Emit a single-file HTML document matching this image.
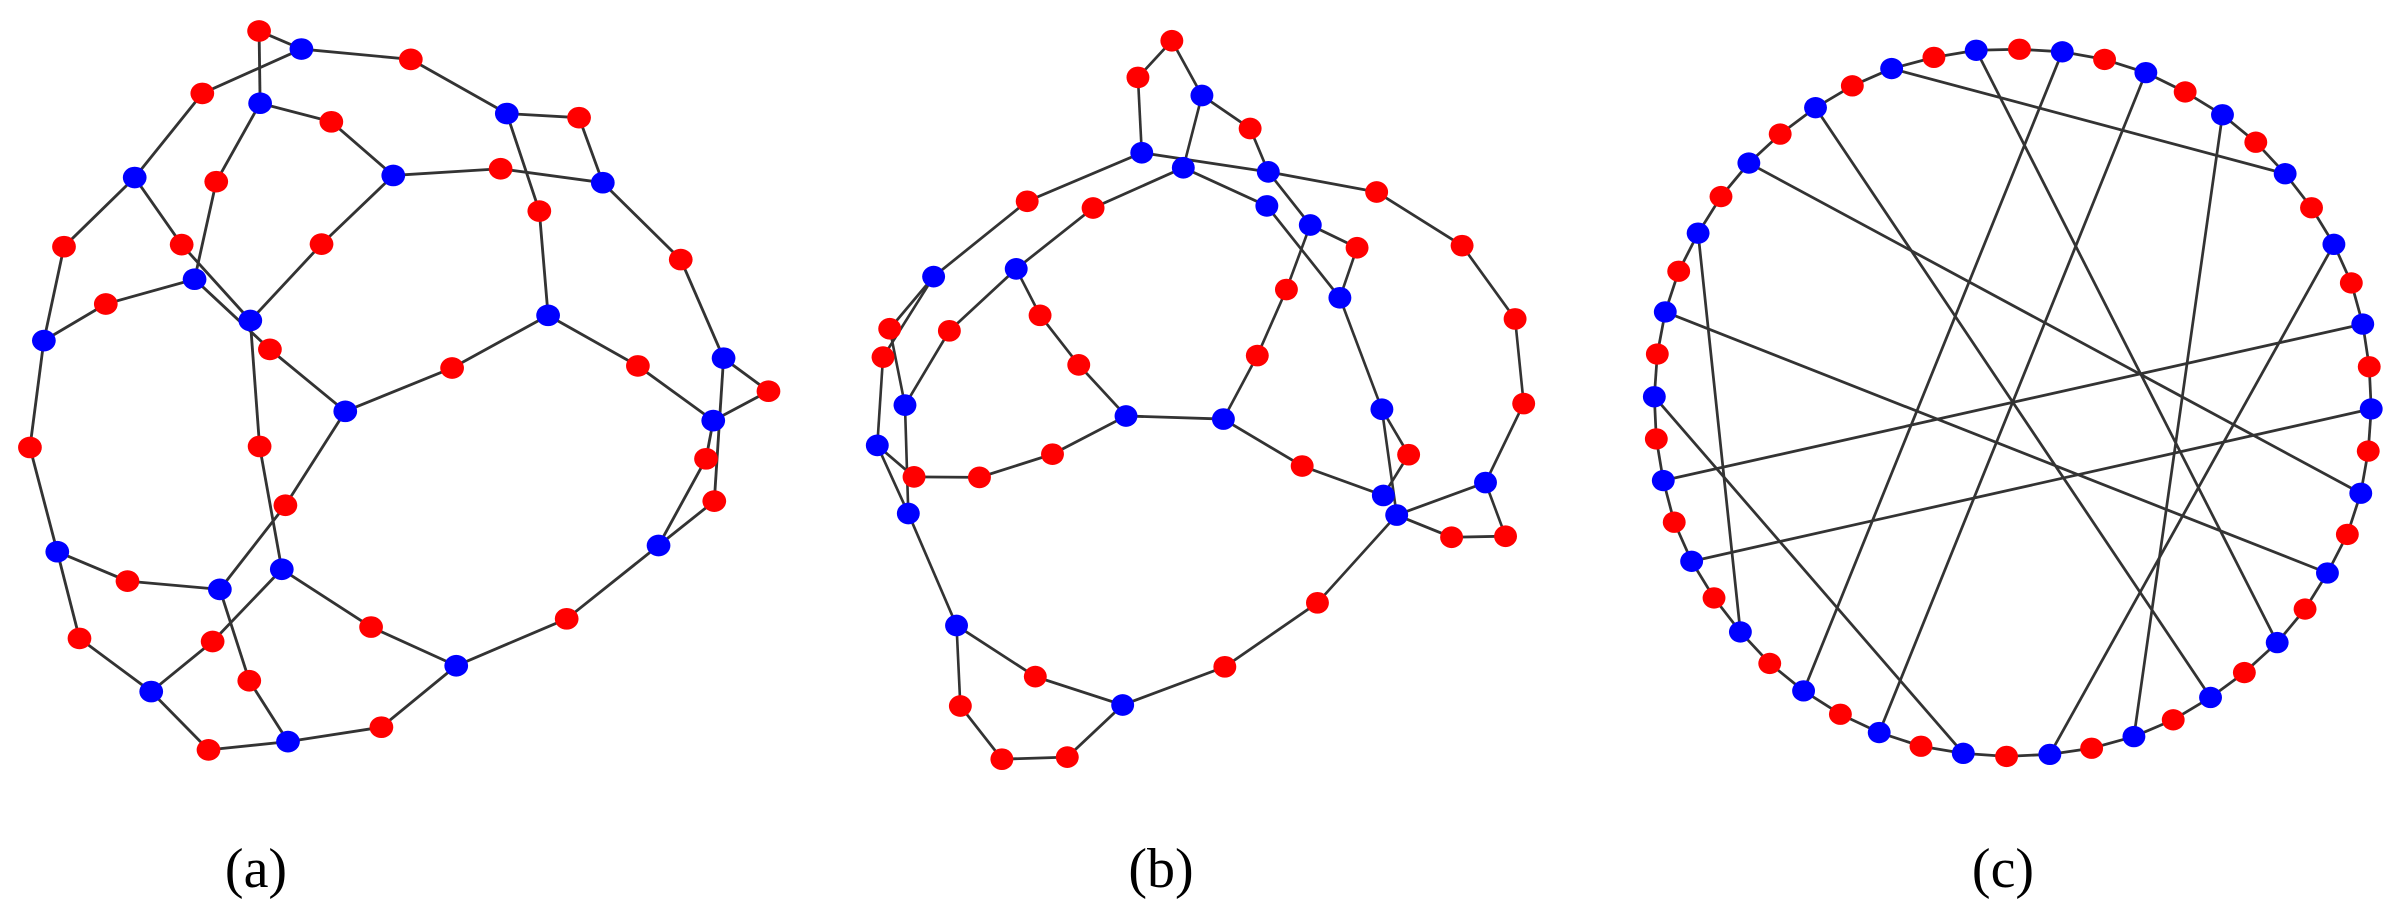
<!DOCTYPE html>
<html><head><meta charset="utf-8"><style>
html,body{margin:0;padding:0;background:#fff;}
svg{display:block;}
.e line{stroke:#333;stroke-width:5.5;}
text{font-family:"Liberation Serif",serif;font-size:56px;fill:#000;}
</style></head><body>
<svg width="2393" height="911" viewBox="0 0 2393 911" xmlns="http://www.w3.org/2000/svg">
<g id="A" transform="translate(0,0) scale(0.5161)"></g>
<g id="B" transform="translate(820,0) scale(0.4774,0.5161)"></g>
<g id="C" transform="translate(1620,1) scale(0.4975,0.508)"></g>
<text x="256" y="887" text-anchor="middle">(a)</text>
<text x="1161" y="887" text-anchor="middle">(b)</text>
<text x="2003" y="887" text-anchor="middle">(c)</text>
</svg>
<script>
const NS="http://www.w3.org/2000/svg";
function draw(id,nodes,edges,rx,ry){
 const g=document.getElementById(id);
 const eg=document.createElementNS(NS,"g");eg.setAttribute("class","e");g.appendChild(eg);
 for(const [a,b] of edges){const p=nodes[a],q=nodes[b];const l=document.createElementNS(NS,"line");
  l.setAttribute("x1",p[0]);l.setAttribute("y1",p[1]);l.setAttribute("x2",q[0]);l.setAttribute("y2",q[1]);eg.appendChild(l);}
 for(const k in nodes){const p=nodes[k];const c=document.createElementNS(NS,"ellipse");
  c.setAttribute("cx",p[0]);c.setAttribute("cy",p[1]);c.setAttribute("rx",rx);c.setAttribute("ry",ry);
  c.setAttribute("fill",k[0]=="B"?"#0000ff":"#ff0000");g.appendChild(c);}
}
const A={R1:[502,60],B1:[584,95],R2:[796,115],R3:[392,181],B2:[504,200],R4:[642,236],B3:[982,220],R5:[1122,228],B4:[261,344],R6:[419,352],B5:[762,340],R7:[970,327],B6:[1168,354],R8:[1045,409],R9:[124,478],R10:[352,474],R11:[623,473],R12:[1319,503],B7:[377,541],R13:[205,589],B8:[485,621],B9:[1062,611],B10:[85,660],R14:[523,677],B11:[1402,694],R15:[876,713],R16:[1236,709],R17:[1489,758],B12:[669,797],B13:[1382,815],R18:[58,867],R19:[503,865],R20:[1368,889],R21:[553,979],R22:[1384,971],B14:[1276,1057],B15:[111,1069],B16:[546,1103],R23:[247,1126],B17:[426,1142],R24:[1098,1199],R25:[719,1215],R26:[154,1237],R27:[412,1243],B18:[884,1290],B19:[293,1340],R28:[483,1319],R29:[739,1409],B20:[558,1437],R30:[404,1453]};
const AE=[["R1","B1"],["R1","B2"],["B1","R3"],["B1","R2"],["R2","B3"],["B3","R5"],["R5","B6"],["B3","R8"],["R8","B9"],["B2","R4"],["R4","B5"],["B2","R6"],["R6","B7"],["B5","R7"],["R7","B6"],["B5","R11"],["R11","B8"],["B4","R3"],["B4","R9"],["B4","R10"],["R10","B8"],["B7","R14"],["R14","B12"],["B8","R19"],["R19","B16"],["B6","R12"],["R12","B11"],["B11","R17"],["R17","B13"],["B11","R22"],["B13","R20"],["R20","B14"],["R22","B14"],["B9","R15"],["R15","B12"],["B9","R16"],["R16","B13"],["B12","R21"],["R21","B17"],["B10","R9"],["B10","R13"],["R13","B7"],["B10","R18"],["R18","B15"],["B15","R23"],["R23","B17"],["B15","R26"],["R26","B19"],["B19","R27"],["R27","B16"],["B16","R25"],["R25","B18"],["B18","R24"],["R24","B14"],["B18","R29"],["R29","B20"],["B20","R30"],["R30","B19"],["B17","R28"],["R28","B20"]];
draw("A",A,AE,23,21);
const B={R1:[737,79],R2:[666,150],B1:[800,185],R3:[901,249],B2:[674,296],B3:[761,325],B4:[939,333],R4:[1166,372],B5:[936,399],R5:[434,390],R6:[572,403],B6:[1027,436],R7:[1125,480],B7:[238,536],B8:[411,521],R8:[977,561],B9:[1089,577],R9:[1345,476],R10:[1456,618],R11:[146,637],R12:[132,692],R13:[271,641],R14:[461,611],R15:[542,707],R16:[916,689],R17:[1474,782],B10:[178,785],B11:[641,806],B12:[845,812],B13:[1177,793],R18:[1233,881],B14:[120,863],R19:[197,924],R20:[334,925],R21:[487,880],R22:[1010,903],B15:[1394,935],B16:[1180,960],B17:[1208,998],R23:[1323,1041],R24:[1436,1039],B18:[185,995],R25:[1042,1168],R26:[848,1292],B19:[286,1212],R27:[451,1311],B20:[634,1366],R28:[294,1368],R29:[381,1471],R30:[518,1467]};
const BE=[["R1","B1"],["R1","R2"],["R2","B2"],["B1","B3"],["B1","R3"],["R3","B4"],["B2","B4"],["B4","R4"],["B2","R5"],["R5","B7"],["B3","R6"],["R6","B8"],["B3","B5"],["B4","B6"],["B5","B9"],["B6","R7"],["R7","B9"],["B6","R8"],["R8","R16"],["R16","B12"],["B9","B13"],["B13","B17"],["R18","B16"],["B13","R18"],["R4","R9"],["R9","R10"],["R10","R17"],["R17","B15"],["B15","B17"],["B15","R24"],["R24","R23"],["R23","B17"],["B12","R22"],["R22","B16"],["B11","B12"],["B11","R15"],["R15","R14"],["R14","B8"],["B11","R21"],["R21","R20"],["R20","R19"],["R19","B14"],["B7","R11"],["B7","R12"],["R11","B10"],["R12","B14"],["B8","R13"],["R13","B10"],["B10","B18"],["B14","B18"],["B18","B19"],["B19","R27"],["R27","B20"],["B19","R28"],["R28","R29"],["R29","R30"],["R30","B20"],["B20","R26"],["R26","R25"],["R25","B17"]];
draw("B",B,BE,24,21);
const cp=[[716,97],[803,95],[889,100],[974,115],[1057,141],[1136,179],[1211,224],[1278,278],[1337,340],[1390,407],[1435,479],[1470,555],[1493,636],[1506,720],[1510,803],[1504,886],[1489,969],[1462,1050],[1422,1126],[1377,1197],[1321,1263],[1255,1322],[1187,1371],[1112,1415],[1033,1448],[948,1471],[864,1483],[777,1487],[690,1481],[605,1467],[521,1440],[443,1404],[369,1358],[301,1304],[242,1242],[189,1175],[144,1103],[109,1026],[87,944],[73,862],[69,779],[75,695],[91,612],[118,532],[157,457],[203,385],[259,319],[322,262],[393,210],[467,167],[546,133],[631,111]];
const C={};const CE=[];const key={};const names=[];
cp.forEach((p,i)=>{const k=(i%2==0?"B":"R")+i;C[k]=p;names.push(k);key[p[0]+","+p[1]]=k;});
for(let i=0;i<cp.length;i++){CE.push([names[i],names[(i+1)%cp.length]]);}
const chords=[[[546,133],[1337,340]],[[716,97],[1321,1263]],[[889,100],[369,1358]],[[1057,141],[521,1440]],[[1211,224],[1033,1448]],[[1435,479],[864,1483]],[[393,210],[1187,1371]],[[259,319],[1489,969]],[[91,612],[1422,1126]],[[157,457],[242,1242]],[[69,779],[690,1481]],[[87,944],[1493,636]],[[144,1103],[1510,803]]];
for(const [p,q] of chords){CE.push([key[p[0]+","+p[1]],key[q[0]+","+q[1]]]);}
draw("C",C,CE,23,21);
</script>
</body></html>
